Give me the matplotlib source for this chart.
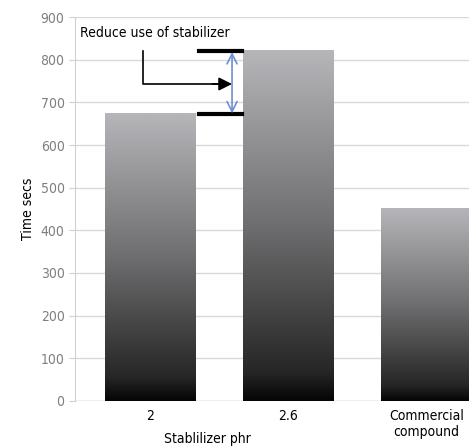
import matplotlib.pyplot as plt
import numpy as np
from matplotlib.colors import LinearSegmentedColormap

categories = ["2", "2.6", "Commercial\ncompound"]
time_secs = [675, 822, 452]
y_ticks = [0, 100, 200, 300, 400, 500, 600, 700, 800, 900]

FONT = {"family": "DejaVu Sans", "stretch": "condensed"}


def main() -> None:
    fig = plt.figure(figsize=(4.69, 4.48), dpi=100)
    ax = fig.add_axes([0.16, 0.105, 0.84, 0.857])

    x = np.arange(len(categories))
    bars = ax.bar(x, time_secs, width=0.652, color="none", zorder=2)

    # vertical gradient, light grey at top to black at the base
    cmap = LinearSegmentedColormap.from_list(
        "bar", [(0.0, "#050505"), (0.08, "#262626"), (0.5, "#6e6e70"), (1.0, "#b6b6ba")]
    )
    grad = np.linspace(0, 1, 256).reshape(-1, 1)
    for b in bars:
        x0, y0 = b.get_x(), b.get_y()
        im = ax.imshow(grad, cmap=cmap, origin="lower", aspect="auto",
                       extent=[x0, x0 + b.get_width(), y0, y0 + b.get_height()], zorder=2)
        im.set_clip_path(b)

    ax.set_xlim(-0.543, 2.31)
    ax.set_ylim(0, 900)
    ax.set_yticks(y_ticks)
    ax.yaxis.grid(True, color="#d9d9d9", linewidth=1)
    ax.set_axisbelow(True)
    for s in ["top", "right", "bottom"]:
        ax.spines[s].set_visible(False)
    ax.spines["left"].set_color("#d0d0d0")
    ax.axhline(0, color="#d0d0d0", linewidth=1, zorder=1)
    ax.tick_params(axis="y", colors="#d0d0d0", labelcolor="#7f7f7f", length=4, labelsize=10)
    ax.tick_params(axis="x", length=0, labelsize=10, pad=6)
    ax.set_xticks(x)
    ax.set_xticklabels(categories, **FONT)
    for lbl in ax.get_yticklabels():
        lbl.set_fontstretch("condensed")

    ax.set_ylabel("Time secs", fontsize=10, **FONT)
    ax.set_xlabel("Stablilizer phr", fontsize=10, **FONT)
    ax.xaxis.set_label_coords(0.335, -0.082)

    # annotation: difference between the 2 and 2.6 phr bars
    hi, lo = time_secs[1], time_secs[0]
    ax.plot([0.355, 0.667], [hi - 2, hi - 2], color="black", linewidth=3, zorder=3)
    ax.plot([0.355, 0.667], [lo - 3, lo - 3], color="black", linewidth=3, zorder=3)
    ax.annotate("", xy=(0.594, hi - 4), xytext=(0.594, lo - 1),
                arrowprops=dict(arrowstyle="<->", color="#6f8fd0", lw=1.2,
                                mutation_scale=18, shrinkA=0, shrinkB=0), zorder=3)
    ax.plot([-0.05, -0.05, 0.5], [820, 743, 743], color="black", linewidth=1.2, zorder=3)
    ax.annotate("", xy=(0.594, 743), xytext=(0.45, 743),
                arrowprops=dict(arrowstyle="-|>", color="black", lw=1.2,
                                mutation_scale=20, shrinkA=0, shrinkB=0), zorder=3)
    ax.text(-0.507, 862, "Reduce use of stabilizer", fontsize=10, va="center", **FONT)

    fig.savefig("out.png", dpi=100)


if __name__ == "__main__":
    main()
